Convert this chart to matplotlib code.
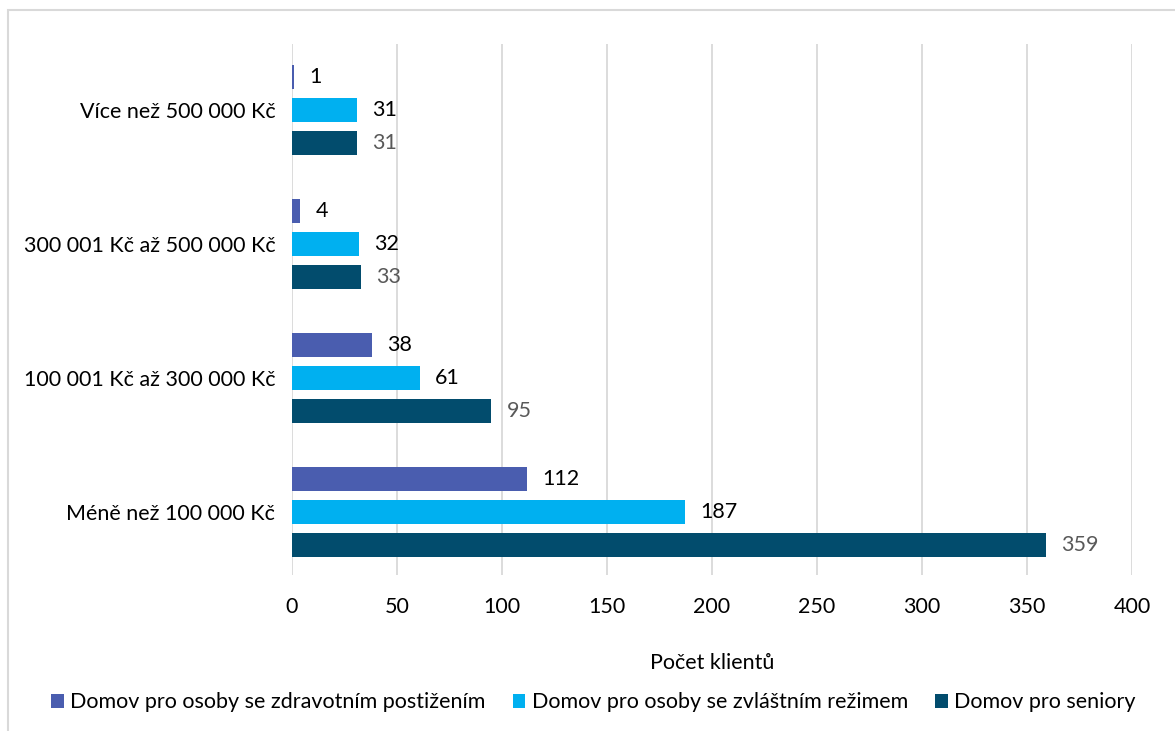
import numpy as np
import matplotlib.pyplot as plt
from matplotlib.patches import Rectangle

plt.rcParams['font.family'] = ['Lato', 'DejaVu Sans']

categories = ['Méně než 100 000 Kč', '100 001 Kč až 300 000 Kč',
              '300 001 Kč až 500 000 Kč', 'Více než 500 000 Kč']
zdravotni = [112, 38, 4, 1]
zvlastni = [187, 61, 32, 31]
seniori = [359, 95, 33, 31]
series_names = ['Domov pro osoby se zdravotním postižením',
                'Domov pro osoby se zvláštním režimem',
                'Domov pro seniory']
colors = ['#4A5DAF', '#00B0F0', '#024C6D']
label_colors = ['#000000', '#000000', '#595959']
fs = 15.5

fig = plt.figure(figsize=(11.75, 7.31), dpi=100)
ax = fig.add_axes([0.2485, 0.2134, 0.7149, 0.7264])

y = np.arange(len(categories))
offset = 0.246
height = 0.18
for i, (vals, name) in enumerate(zip([zdravotni, zvlastni, seniori], series_names)):
    pos = y + offset * (1 - i)
    bars = ax.barh(pos, vals, height=height, color=colors[i], label=name, zorder=3)
    for b, v in zip(bars, vals):
        ax.annotate(str(v), (b.get_width(), b.get_y() + b.get_height() / 2),
                    xytext=(11, 0), textcoords='offset points',
                    va='center', ha='left', fontsize=fs, color=label_colors[i])

ax.set_xlim(0, 400)
ax.set_ylim(-0.47, 3.49)
ax.set_xticks(np.arange(0, 401, 50))
ax.set_yticks(y)
ax.set_yticklabels(categories)
ax.tick_params(axis='both', length=0, labelsize=fs, colors='#000000')
ax.tick_params(axis='x', pad=16)
ax.tick_params(axis='y', pad=12)
ax.grid(axis='x', color='#D9D9D9', linewidth=1.3, zorder=0)
for s in ax.spines.values():
    s.set_visible(False)
ax.set_xlabel('Počet klientů', fontsize=fs, labelpad=26)

fig.legend(loc='center', bbox_to_anchor=(0.505, 0.039), ncol=3, frameon=False,
           fontsize=fs, handlelength=0.6, handleheight=0.6, handletextpad=0.3,
           columnspacing=1.25)

fig.patches.append(Rectangle((8 / 1175, -0.1), 1.2, 1 - 10 / 731 + 0.1,
                             transform=fig.transFigure, fill=False,
                             edgecolor='#D9D9D9', linewidth=1.5))

fig.savefig('out.png', dpi=100)
